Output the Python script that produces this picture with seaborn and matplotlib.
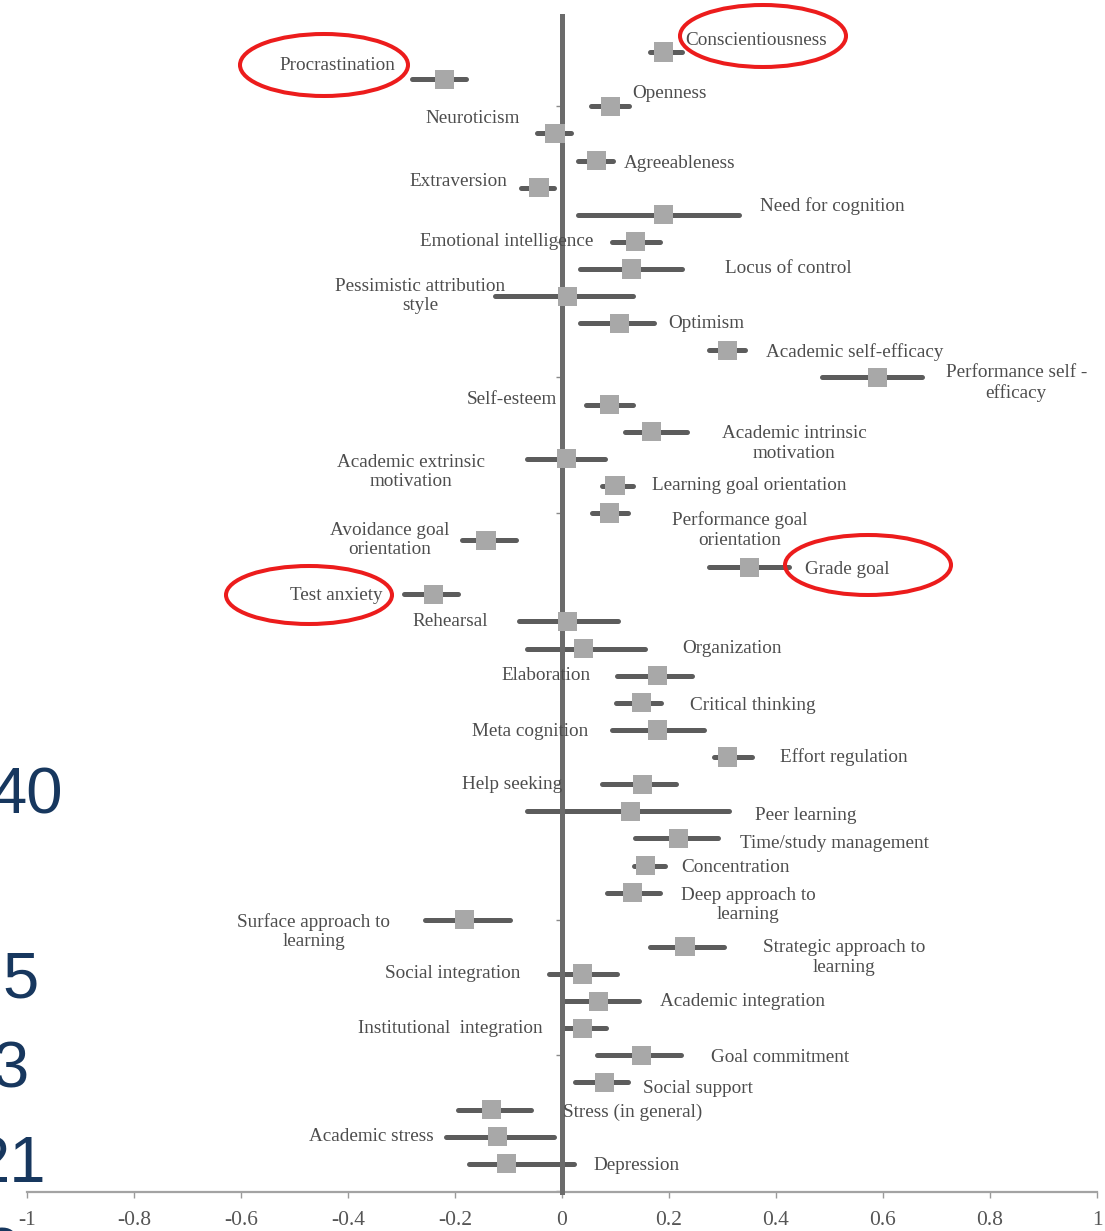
import numpy as np
import pandas as pd
import matplotlib
matplotlib.use("Agg")
import matplotlib.pyplot as plt
from matplotlib.patches import Ellipse
import seaborn as sns

# ---- data: correlates of academic performance (effect size with confidence interval) ----
factors = [
    "Conscientiousness", "Procrastination", "Openness", "Neuroticism", "Agreeableness",
    "Extraversion", "Need for cognition", "Emotional intelligence", "Locus of control",
    "Pessimistic attribution\nstyle", "Optimism", "Academic self-efficacy",
    "Performance self -\nefficacy", "Self-esteem", "Academic intrinsic\nmotivation",
    "Academic extrinsic\nmotivation", "Learning goal orientation",
    "Performance goal\norientation", "Avoidance goal\norientation", "Grade goal",
    "Test anxiety", "Rehearsal", "Organization", "Elaboration", "Critical thinking",
    "Meta cognition", "Effort regulation", "Help seeking", "Peer learning",
    "Time/study management", "Concentration", "Deep approach to\nlearning",
    "Surface approach to\nlearning", "Strategic approach to\nlearning",
    "Social integration", "Academic integration", "Institutional  integration",
    "Goal commitment", "Social support", "Stress (in general)", "Academic stress",
    "Depression",
]
effect = [
    0.19, -0.22, 0.09, -0.013, 0.065,
    -0.043, 0.19, 0.138, 0.13,
    0.01, 0.108, 0.31,
    0.59, 0.088, 0.168,
    0.009, 0.099,
    0.088, -0.142, 0.35,
    -0.24, 0.01, 0.04, 0.178, 0.148,
    0.178, 0.31, 0.15, 0.128,
    0.218, 0.156, 0.131,
    -0.183, 0.23,
    0.038, 0.068, 0.038,
    0.148, 0.079, -0.131, -0.121,
    -0.103,
]
ci_low = [
    0.165, -0.28, 0.055, -0.047, 0.03,
    -0.077, 0.03, 0.093, 0.034,
    -0.125, 0.034, 0.275,
    0.486, 0.045, 0.118,
    -0.065, 0.075,
    0.056, -0.187, 0.275,
    -0.295, -0.08, -0.065, 0.103, 0.10,
    0.093, 0.285, 0.075, -0.065,
    0.136, 0.135, 0.084,
    -0.256, 0.165,
    -0.025, 0.002, 0.002,
    0.066, 0.024, -0.194, -0.217,
    -0.174,
]
ci_high = [
    0.225, -0.18, 0.125, 0.017, 0.095,
    -0.015, 0.33, 0.183, 0.224,
    0.133, 0.172, 0.342,
    0.673, 0.133, 0.234,
    0.08, 0.133,
    0.123, -0.086, 0.425,
    -0.195, 0.105, 0.155, 0.243, 0.185,
    0.265, 0.355, 0.213, 0.312,
    0.292, 0.193, 0.183,
    -0.097, 0.303,
    0.103, 0.144, 0.082,
    0.222, 0.124, -0.058, -0.015,
    0.022,
]

x_ticks = [-1, -0.8, -0.6, -0.4, -0.2, 0, 0.2, 0.4, 0.6, 0.8, 1]
x_tick_labels = ["-1", "-0.8", "-0.6", "-0.4", "-0.2", "0", "0.2", "0.4", "0.6", "0.8", "1"]

# label placement: (x anchor, vertical offset in rows, horizontal alignment)
label_layout = [
    (0.230, -0.44, "left"), (-0.312, -0.50, "right"), (0.131, -0.48, "left"),
    (-0.079, -0.55, "right"), (0.116, 0.10, "left"), (-0.103, -0.22, "right"),
    (0.370, -0.33, "left"), (0.058, 0.0, "right"), (0.305, 0.0, "left"),
    (-0.265, 0.0, "center"), (0.198, 0.0, "left"), (0.381, 0.07, "left"),
    (0.849, 0.20, "center"), (-0.009, -0.20, "right"), (0.434, 0.44, "center"),
    (-0.282, 0.48, "center"), (0.168, 0.0, "left"), (0.333, 0.63, "center"),
    (-0.323, 0.0, "center"), (0.454, 0.07, "left"), (-0.336, 0.05, "right"),
    (-0.138, 0.0, "right"), (0.224, 0.0, "left"), (0.054, 0.0, "right"),
    (0.239, 0.10, "left"), (0.049, 0.07, "right"), (0.407, 0.0, "left"),
    (0.0, 0.0, "right"), (0.361, 0.15, "left"), (0.333, 0.20, "left"),
    (0.222, 0.07, "left"), (0.348, 0.45, "center"), (-0.464, 0.44, "center"),
    (0.527, 0.40, "center"), (-0.077, 0.0, "right"), (0.183, 0.0, "left"),
    (-0.036, 0.0, "right"), (0.279, 0.07, "left"), (0.151, 0.22, "left"),
    (0.002, 0.10, "left"), (-0.239, 0.0, "right"), (0.058, 0.07, "left"),
]

df = pd.DataFrame({
    "factor": factors,
    "effect": effect,
    "low": ci_low,
    "high": ci_high,
})
df["row"] = np.arange(len(df))

# ---- style ----
sns.set_style("white")
plt.rcParams["font.family"] = ["Liberation Serif", "DejaVu Serif"]

W, H = 1105, 1231
fig = plt.figure(figsize=(W / 100, H / 100), dpi=100)
fig.patch.set_facecolor("white")
ax = fig.add_axes([27 / W, (H - 1192) / H, 1070 / W, (1192 - 16) / H])
ax.set_facecolor("white")

# confidence intervals
ax.hlines(df["row"], df["low"], df["high"], color="#5c5c5c", lw=3.6,
          capstyle="round", zorder=2)
# point estimates
sns.scatterplot(data=df, x="effect", y="row", marker="s", s=190,
                color="#a8a8a8", edgecolor="none", linewidth=0,
                legend=False, zorder=4, ax=ax)

ax.set_xlim(-1, 1)
ax.set_ylim(42.04, -1.33)

# zero reference line as the category axis
for side in ("top", "right"):
    ax.spines[side].set_visible(False)
ax.spines["left"].set_position(("data", 0))
ax.spines["left"].set_color("#6b6b6b")
ax.spines["left"].set_linewidth(3.6)
ax.spines["left"].set_zorder(3)
ax.spines["bottom"].set_color("#a3a3a3")
ax.spines["bottom"].set_linewidth(1.6)

ax.set_yticks(np.arange(2, 43, 5))
ax.set_yticklabels([])
ax.tick_params(axis="y", direction="out", length=4, width=1.0, color="#8a8a8a", left=True)

ax.set_xticks(x_ticks)
ax.set_xticklabels(x_tick_labels)
ax.tick_params(axis="x", direction="out", length=4.5, width=1.0, color="#9a9a9a",
               pad=9, labelsize=15.5, labelcolor="#555555", bottom=True)
ax.set_xlabel("")
ax.set_ylabel("")

# factor labels
for (name, row), (lx, dy, ha) in zip(zip(df["factor"], df["row"]), label_layout):
    ax.text(lx, row + dy, name, ha=ha, va="center", multialignment="center",
            fontsize=13.8, color="#4d4d4d", linespacing=1.2, zorder=5)

# highlighted factors
highlight_rings = [
    (324, 65, 168, 62),
    (763, 36, 166, 62),
    (868, 565, 166, 60),
    (309, 595, 166, 58),
]
for cx, cy, ew, eh in highlight_rings:
    fig.add_artist(Ellipse((cx / W, 1 - cy / H), ew / W, eh / H,
                           transform=fig.transFigure, fill=False,
                           edgecolor="#ec1c1c", lw=2.9, zorder=10))

# slide numbers along the left edge
side_numbers = [("40", 63, 814), ("5", 39, 997), ("3", 29, 1088), ("21", 46, 1182), ("3", 20, 1273)]
for txt, rx, base in side_numbers:
    fig.text(rx / W, 1 - base / H, txt, ha="right", va="baseline", fontsize=47,
             color="#17375e", family=["Liberation Sans", "DejaVu Sans"])

fig.savefig("out.png", dpi=100, facecolor="white")
